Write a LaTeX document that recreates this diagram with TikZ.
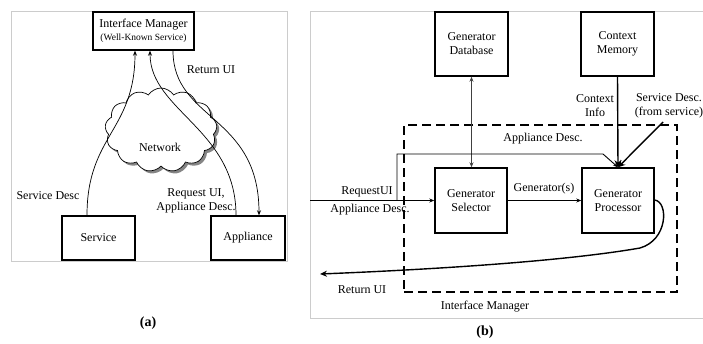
\documentclass[tikz,border=0pt]{standalone}
\usepackage{fontspec}
\setmainfont{Liberation Serif}
\usetikzlibrary{arrows.meta,shapes.symbols,shadows,calc}
\begin{document}
\begin{tikzpicture}[x=1pt,y=-1pt,
  every node/.style={font=\fontsize{12}{14}\selectfont},
  box/.style={draw,line width=1.4pt,inner sep=0pt,align=center},
  frame/.style={draw=black!20,line width=0.8pt},
  thinarr/.style={line width=0.7pt,-{Stealth[length=5pt,width=4pt]}},
  thickarr/.style={line width=1.4pt,-{Stealth[length=7pt,width=7pt]}},
  lbl/.style={inner sep=0pt,align=center},
  capt/.style={inner sep=0pt,font=\fontsize{14}{16}\selectfont\bfseries}]
\useasboundingbox (0,0) rectangle (703,343);
% ---------- panel (a)
\draw[frame] (11,11) rectangle (287,261);
\node[cloud, cloud puffs=13, cloud puff arc=115, aspect=1.35, draw, line width=0.7pt, fill=white,
  minimum width=112pt, minimum height=84pt, inner sep=0pt,
  drop shadow={shadow xshift=2.5pt, shadow yshift=-2.5pt, fill=black!60, opacity=0.8}] (net) at (161,130) {};
\node[lbl] (netl) at (160,147) {Network};
\node[box, fill=white, minimum width=101pt, minimum height=38pt] (im) at (143.5,31)
  {Interface Manager\\[-1pt]{\fontsize{9.5}{11}\selectfont (Well-Known Service)}};
\node[box, minimum width=73pt, minimum height=44pt] (svc) at (98.5,238) {Service};
\node[box, minimum width=74pt, minimum height=44pt] (app) at (248,238) {Appliance};
\draw[thinarr] ([xshift=-11.5pt]svc.north) .. controls +(0,-80) and +(0,80) .. ([xshift=-8.5pt]im.south);
\draw[thinarr] ([xshift=-12pt]app.north) .. controls +(0,-86) and +(0,60) .. ([xshift=6.5pt]im.south);
\draw[thinarr] ([xshift=29.5pt]im.south) .. controls +(0,70) and +(0,-101) .. ([xshift=11pt]app.north);
\node[lbl] (sdl) at (48,196) {Service Desc};
\node[lbl] (rql) at (196,201) {Request UI,\\Appliance Desc.};
\node[lbl] (rtl) at (211,70) {Return UI};
\node[capt] (capa) at (148,323) {(a)};
% ---------- panel (b)
\draw[frame] (704,11) -- (310,11) -- (310,318) -- (704,318);
\node[draw, dash pattern=on 9pt off 5pt, line width=1.4pt, minimum width=273pt, minimum height=167pt, inner sep=0pt] (imbox) at (540.5,208.5) {};
\node[box, minimum width=73pt, minimum height=64pt] (gdb) at (471.5,44) {Generator\\Database};
\node[box, minimum width=73pt, minimum height=64pt] (cm) at (617.5,44) {Context\\Memory};
\node[box, minimum width=72pt, minimum height=65pt] (gs) at (471,200.5) {Generator\\Selector};
\node[box, minimum width=72pt, minimum height=65pt] (gp) at (618,200.5) {Generator\\Processor};
\coordinate (in) at (310,200.5);
\coordinate (br) at (397,200.5);
\coordinate (sd) at (663,122);
\coordinate (ret) at (320,274);
\draw[line width=0.8pt, black!75, {Stealth[length=5pt,width=4pt]}-{Stealth[length=5pt,width=4pt]}] (gdb.south) -- (gdb.south |- gs.north);
\draw[thinarr, line width=0.9pt] (gs.east) -- (gp.west);
\draw[thinarr, line width=0.9pt] (in) -- (gs.west);
\draw[thinarr, line width=0.9pt] (br) -- (397,154) -- (603,154) -- (gp.north);
\draw[thickarr] (cm.south) -- (gp.north);
\draw[thickarr] (sd) -- (gp.north);
\draw[line width=1.4pt, -{Stealth[length=7pt,width=6pt]}] ([yshift=0.5pt]gp.east) .. controls +(14,2) and +(28,-8) .. (640,248) .. controls (560,262) and (420,270) .. (ret);
\node[lbl] (gsl) at (544,189) {Generator(s)};
\node[lbl] (adl) at (543,139) {Appliance Desc.};
\node[lbl] (rqb) at (367,192) {RequestUI};
\node[lbl] (adb) at (370,210) {Appliance Desc.};
\node[lbl] (cil) at (595,106) {Context\\Info};
\node[lbl] (sdlb) at (669,106) {Service Desc.\\(from service)};
\node[lbl] (rtb) at (362,290) {Return UI};
\node[lbl] (iml) at (485,307) {Interface Manager};
\node[capt] (capb) at (485,332) {(b)};
\end{tikzpicture}
\end{document}
